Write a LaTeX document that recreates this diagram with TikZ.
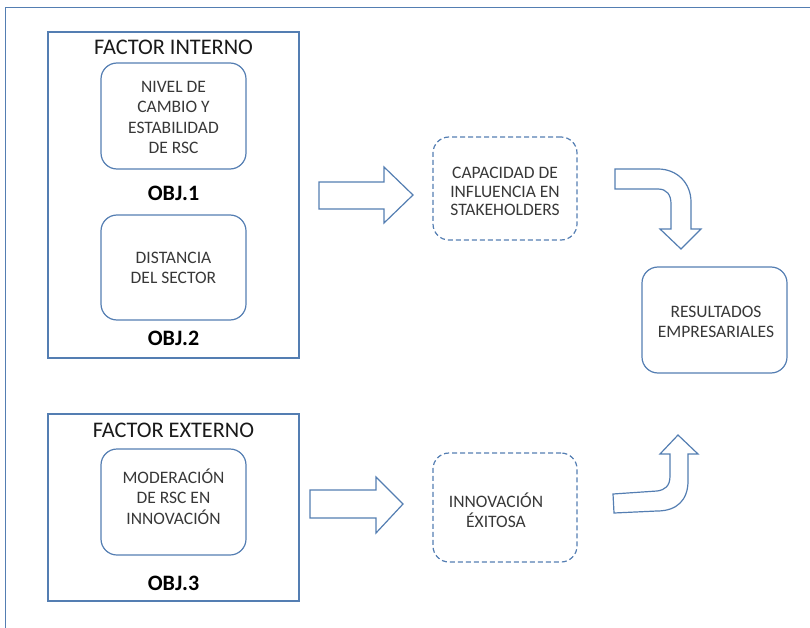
\documentclass[tikz,border=0pt]{standalone}
\usepackage{fontspec}
\setmainfont{Carlito}
\definecolor{edge}{RGB}{84,126,178}
\definecolor{txt}{RGB}{56,56,56}
\tikzset{
  frame/.style={draw=edge, line width=1pt},
  group/.style={draw=edge, line width=1.2pt, minimum width=251pt, inner sep=0pt},
  rbox/.style={draw=edge, line width=1.2pt, rounded corners=16pt, minimum width=145pt, inner sep=0pt},
  dbox/.style={draw=edge, line width=1.2pt, rounded corners=16pt, dash pattern=on 5pt off 3pt,
               minimum width=144pt, inner sep=0pt},
  boxtext/.style={align=center, text=txt, font=\fontsize{17.5}{20.5}\selectfont, inner sep=0pt},
  title/.style={text=black!90, font=\fontsize{22.3}{24}\selectfont, inner sep=0pt},
  objtext/.style={text=black, font=\fontsize{22}{24}\selectfont\bfseries, inner sep=0pt},
  blockarrow/.style={draw=edge, line width=1.2pt, fill=white, line join=miter},
}
\begin{document}
\begin{tikzpicture}[x=1pt, y=-1pt]
\useasboundingbox (0,0) rectangle (810,628);

% page frame
\draw[frame] (5,628) -- (5,7.5) -- (810,7.5);

% internal factor group
\node[group, minimum height=326pt] (interno) at (173.5,195) {};
\node[title] (tint) at (173.5,47) {FACTOR INTERNO};
\node[rbox, minimum height=106pt] (cambio) at (173.5,116) {};
\node[boxtext] (tcambio) at (173.5,117.5) {NIVEL DE\\CAMBIO Y\\ESTABILIDAD\\DE RSC};
\node[objtext] (obj1) at (173.5,193) {OBJ.1};
\node[rbox, minimum height=105pt] (sector) at (173.5,267.5) {};
\node[boxtext] (tsector) at (173.5,268) {DISTANCIA\\DEL SECTOR};
\node[objtext] (obj2) at (173.5,338) {OBJ.2};

% external factor group
\node[group, minimum height=187pt] (externo) at (173.5,507.5) {};
\node[title] (text) at (173.5,430) {FACTOR EXTERNO};
\node[rbox, minimum height=106pt] (moder) at (173.5,502) {};
\node[boxtext] (tmoder) at (173.5,496.5) {MODERACIÓN\\DE RSC EN\\INNOVACIÓN};
\node[objtext] (obj3) at (173.5,583) {OBJ.3};

% mediating outcomes
\node[dbox, minimum height=103pt] (stake) at (505,188.5) {};
\node[boxtext, font=\fontsize{17.5}{18.5}\selectfont] (tstake) at (505,191.5) {CAPACIDAD DE\\INFLUENCIA EN\\STAKEHOLDERS};
\node[dbox, minimum height=109pt] (innov) at (505,507.5) {};
\node[boxtext] (tinnov) at (496,510) {INNOVACIÓN\\ÉXITOSA};

% final result
\node[rbox, minimum height=106pt] (result) at (714.5,320) {};
\node[boxtext] (tresult) at (716,322) {RESULTADOS\\EMPRESARIALES};

% straight block arrows
\draw[blockarrow] (319,182) -- (384,182) -- (384,167) -- (413,195) -- (384,223)
  -- (384,209) -- (319,209) -- cycle;
\draw[blockarrow] (310,490) -- (376,490) -- (376,477) -- (403,504) -- (376,533)
  -- (376,518) -- (310,518) -- cycle;

% bent arrow down into the result box
\draw[blockarrow] (615,169) -- (658,169) .. controls (677,169) and (691,183) .. (691,202)
  -- (691,229) -- (701,229) -- (681,249) -- (660,229) -- (671,229) -- (671,204)
  .. controls (671,195) and (667,189) .. (658,189) -- (615,189) -- cycle;

% bent arrow up into the result box
\draw[blockarrow] (613,494) -- (657,491) .. controls (665,490) and (670,486) .. (670,476)
  -- (670,454) -- (660,454) -- (678,435) -- (698,454) -- (688,454) -- (688,481)
  .. controls (688,500) and (677,511) .. (657,511) -- (614,513) -- cycle;
\end{tikzpicture}
\end{document}
